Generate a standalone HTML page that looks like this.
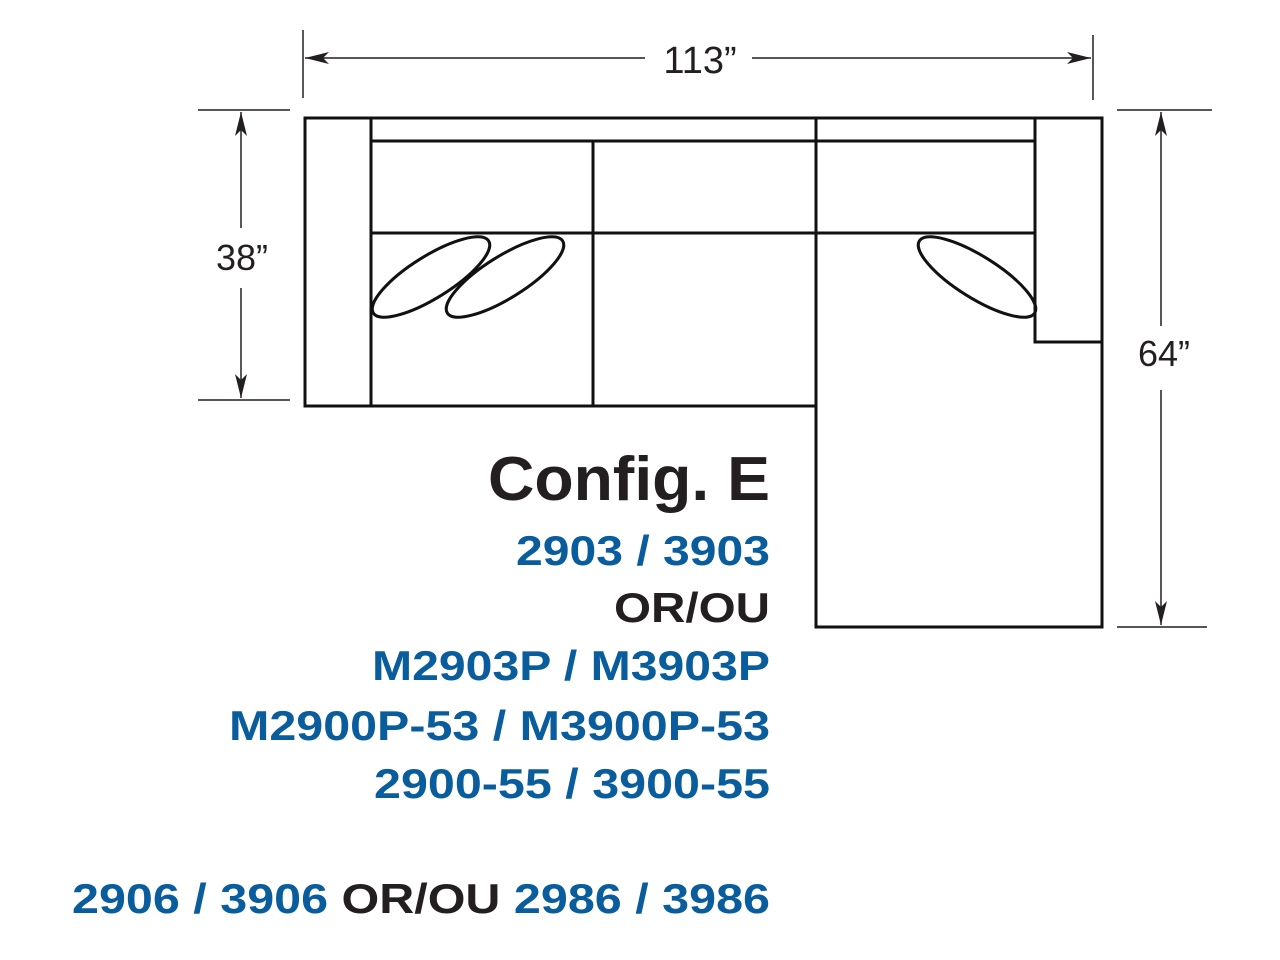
<!DOCTYPE html>
<html><head><meta charset="utf-8"><style>html,body{margin:0;padding:0;background:#fff}svg{display:block}</style></head><body>
<svg width="1280" height="960" viewBox="0 0 1280 960" xmlns="http://www.w3.org/2000/svg">
<defs>
<marker id="a" viewBox="0 0 24 12" refX="24" refY="6" markerWidth="24" markerHeight="12" markerUnits="userSpaceOnUse" orient="auto"><path d="M0,0 L24,6 L0,12 L6,6 Z" fill="#231f20"/></marker>
</defs>
<g stroke="#231f20" stroke-width="1.5" fill="none">
<line x1="303" y1="30" x2="303" y2="98"/>
<line x1="1093" y1="35" x2="1093" y2="100"/>
<line x1="645" y1="58" x2="305" y2="58" marker-end="url(#a)"/>
<line x1="752" y1="58" x2="1091" y2="58" marker-end="url(#a)"/>
<line x1="198" y1="110" x2="290" y2="110"/>
<line x1="198" y1="400" x2="290" y2="400"/>
<line x1="241" y1="228" x2="241" y2="112" marker-end="url(#a)"/>
<line x1="241" y1="288" x2="241" y2="398" marker-end="url(#a)"/>
<line x1="1117" y1="110" x2="1212" y2="110"/>
<line x1="1117" y1="627" x2="1207" y2="627"/>
<line x1="1161" y1="326" x2="1161" y2="112" marker-end="url(#a)"/>
<line x1="1161" y1="390" x2="1161" y2="625" marker-end="url(#a)"/>
</g>
<g stroke="#111" stroke-width="3" fill="none">
<path d="M305,118 H1102 V627 H816 V406 H305 Z"/>
<line x1="371" y1="118" x2="371" y2="406"/>
<line x1="371" y1="141" x2="1035" y2="141"/>
<line x1="371" y1="233" x2="1035" y2="233"/>
<line x1="593" y1="141" x2="593" y2="406"/>
<line x1="816" y1="118" x2="816" y2="406"/>
<path d="M1035,118 V342 H1102"/>
<ellipse cx="431" cy="277" rx="68" ry="21" transform="rotate(-32 431 277)"/>
<ellipse cx="505" cy="277" rx="68" ry="21" transform="rotate(-32 505 277)"/>
<ellipse cx="977" cy="277" rx="68" ry="21" transform="rotate(32 977 277)"/>
</g>
<g font-family="Liberation Sans, sans-serif" fill="#231f20">
<text x="700" y="73" font-size="38" text-anchor="middle">113”</text>
<text x="242" y="270" font-size="36" text-anchor="middle">38”</text>
<text x="1164" y="366" font-size="36" text-anchor="middle">64”</text>
</g>
<g font-family="Liberation Sans, sans-serif" font-weight="bold" text-anchor="end">
<text x="770" y="500" font-size="62" fill="#231f20" textLength="282" lengthAdjust="spacingAndGlyphs">Config. E</text>
<text x="770" y="565" font-size="42" fill="#0a5d9c" textLength="254" lengthAdjust="spacingAndGlyphs">2903 / 3903</text>
<text x="770" y="622" font-size="42" fill="#231f20" textLength="156" lengthAdjust="spacingAndGlyphs">OR/OU</text>
<text x="770" y="680" font-size="42" fill="#0a5d9c" textLength="398" lengthAdjust="spacingAndGlyphs">M2903P / M3903P</text>
<text x="770" y="740" font-size="42" fill="#0a5d9c" textLength="541" lengthAdjust="spacingAndGlyphs">M2900P-53 / M3900P-53</text>
<text x="770" y="798" font-size="42" fill="#0a5d9c" textLength="396" lengthAdjust="spacingAndGlyphs">2900-55 / 3900-55</text>
<text x="770" y="913" font-size="42" fill="#0a5d9c" textLength="698" lengthAdjust="spacingAndGlyphs">2906 / 3906 <tspan fill="#231f20">OR/OU</tspan> 2986 / 3986</text>
</g>
</svg>
</body></html>
